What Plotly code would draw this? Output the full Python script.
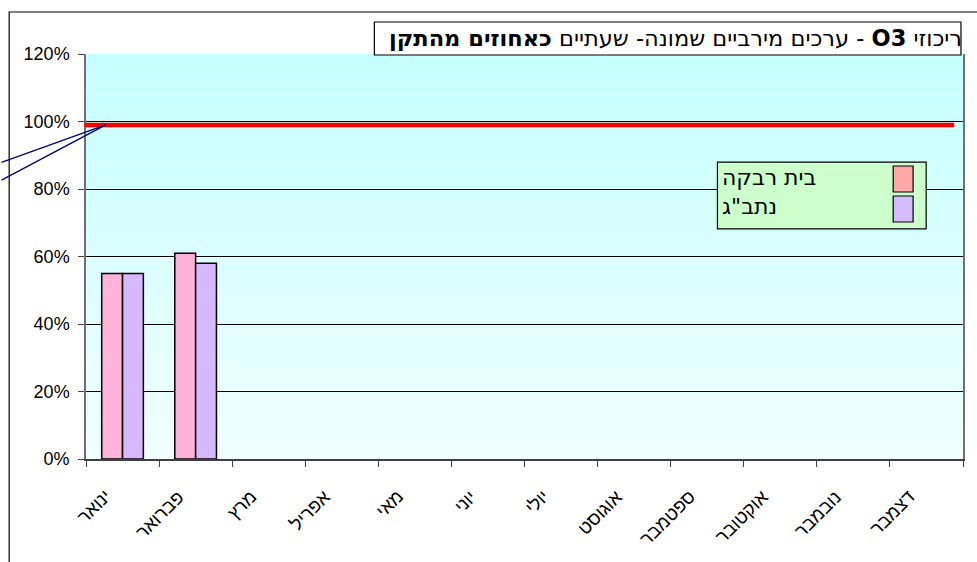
import plotly.graph_objects as go

months = ["ינואר", "פברואר", "מרץ", "אפריל", "מאי", "יוני",
          "יולי", "אוגוסט", "ספטמבר", "אוקטובר", "נובמבר", "דצמבר"]
series_names = ["בית רבקה", "נתב\"ג"]
beit_rivka = [55, 61, None, None, None, None, None, None, None, None, None, None]
natbag = [55, 58, None, None, None, None, None, None, None, None, None, None]
standard_line = 99
y_ticks = [0, 20, 40, 60, 80, 100, 120]
y_tick_labels = ["%d%%\u00a0" % v for v in y_ticks]
title_text = "\u202bריכוזי <b>O3</b> - ערכים מירביים שמונה- שעתיים <b>כאחוזים מהתקן</b>\u202c"

FONT = "Liberation Sans, Arial, sans-serif"
HEB = "DejaVu Sans, Liberation Sans, sans-serif"
bar_colors = ["#ffb3d8", "#d6b8ff"]
swatch_colors = ["#ffa8a8", "#d4bcff"]

fig = go.Figure()
for name, vals, col in zip(series_names, [beit_rivka, natbag], bar_colors):
    fig.add_trace(go.Bar(x=months, y=vals, name=name, marker=dict(color=col, line=dict(color="black", width=1.5)),
                         showlegend=False))

shapes = []
# gradient plot background
n = 40
top = (198, 255, 255)
bot = (240, 255, 255)
for i in range(n):
    t = i / (n - 1)
    c = tuple(int(round(bot[k] + (top[k] - bot[k]) * t)) for k in range(3))
    shapes.append(dict(type="rect", xref="paper", yref="paper", x0=0, x1=1, y0=i / n, y1=(i + 1) / n,
                       fillcolor="rgb(%d,%d,%d)" % c, line=dict(width=0), layer="below"))
# standard line (red)
shapes.append(dict(type="line", xref="paper", yref="y", x0=-0.002, x1=0.99, y0=standard_line, y1=standard_line,
                   line=dict(color="#ff0000", width=4.5)))
# outer chart border
shapes.append(dict(type="rect", xref="paper", yref="paper", x0=-0.0876, x1=1.2, y0=-0.5, y1=1.1037,
                   line=dict(color="black", width=1.2), fillcolor="rgba(0,0,0,0)"))
# title box
shapes.append(dict(type="rect", xref="paper", yref="paper", x0=0.3288, x1=0.9977, y0=0.9975, y1=1.079,
                   line=dict(color="black", width=1.2), fillcolor="white"))
# legend box
shapes.append(dict(type="rect", xref="paper", yref="paper", x0=0.720, x1=0.958, y0=0.568, y1=0.733,
                   line=dict(color="black", width=1.2), fillcolor="#ccffcc"))
sw_y = [(0.6593, 0.7235), (0.5852, 0.6494)]
for (y0, y1), col in zip(sw_y, swatch_colors):
    shapes.append(dict(type="rect", xref="paper", yref="paper", x0=0.9204, x1=0.9431, y0=y0, y1=y1,
                       line=dict(color="black", width=1.2), fillcolor=col))

annotations = []
annotations.append(dict(xref="paper", yref="paper", x=1.0015, y=1.039, xanchor="right", yanchor="middle",
                        text=title_text, showarrow=False, font=dict(family=HEB, size=22.5, color="black")))
for name, yy in zip(series_names, [0.695, 0.624]):
    annotations.append(dict(xref="paper", yref="paper", x=0.7225, y=yy, xanchor="left", yanchor="middle",
                            text=name, showarrow=False, font=dict(family=HEB, size=22, color="black")))
# rotated month labels
for m in months:
    annotations.append(dict(xref="x", yref="paper", x=m, y=0, xanchor="right", yanchor="top",
                            textangle=-45, text=m, showarrow=False, xshift=-5, yshift=-24,
                            font=dict(family=FONT, size=18.5, color="black")))
# leader lines
for ay in [38, 56]:
    annotations.append(dict(xref="x", yref="y", x=-0.23, y=standard_line, text="", showarrow=True,
                            arrowhead=0, arrowwidth=1.4, arrowcolor="#000080", ax=-108, ay=ay, standoff=0))

fig.update_layout(
    width=977, height=562,
    margin=dict(l=86, r=12, t=54, b=103),
    paper_bgcolor="white", plot_bgcolor="#e6ffff",
    barmode="group", bargap=0.43, bargroupgap=0,
    shapes=shapes, annotations=annotations,
    font=dict(family=FONT, color="black"),
)
fig.update_xaxes(type="category", tickson="boundaries", ticks="outside", ticklen=6, tickcolor="#404040",
                 showline=True, linecolor="#404040", linewidth=1.5, showgrid=False,
                 showticklabels=False, range=[-0.5, 11.5])
fig.update_yaxes(range=[0, 120], tickvals=y_ticks, ticktext=y_tick_labels, ticks="outside", ticklen=6,
                 tickcolor="#404040",
                 showline=True, linecolor="#707070", linewidth=1.5, mirror=True,
                 showgrid=True, gridcolor="black", gridwidth=1, zeroline=False,
                 tickfont=dict(family=FONT, size=18))

fig.write_html("out.html", config={"displayModeBar": False},
               post_script="document.body.style.margin='0';document.body.style.overflow='hidden';")
